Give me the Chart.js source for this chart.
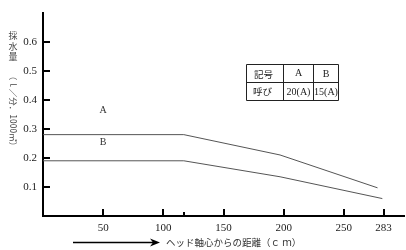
<!DOCTYPE html>
<html><head><meta charset="utf-8">
<script src="https://cdn.jsdelivr.net/npm/chart.js@4/dist/chart.umd.min.js"></script>
<style>html,body{margin:0;padding:0;background:#fff;} #wrap{width:406px;height:250px;position:relative;}</style>
</head><body><div id="wrap"><canvas id="c" width="406" height="250"></canvas></div>
<script>
// ---- data ----
const seriesNames = ['A', 'B'];
const distA = [0, 117, 197, 278];
const flowA = [0.28, 0.28, 0.21, 0.097];
const distB = [0, 117, 197, 282];
const flowB = [0.19, 0.19, 0.135, 0.06];
const xTickValues = [50, 100, 150, 200, 250, 283];
const minorXTicks = [117];
const yTickValues = [0.1, 0.2, 0.3, 0.4, 0.5, 0.6];
const seriesLabelPos = [[50, 0.362], [50, 0.252]];
const tableHeader = ['記号', 'A', 'B'];
const tableRow = ['呼び', '20(A)', '15(A)'];
const yTitleStacked = '採水量';
const yTitleUnit = '（ｌ／分．1000㎡）';
const xTitle = 'ヘッド軸心からの距離（ｃ ｍ）';

const SERIF = "'Liberation Serif', 'DejaVu Serif', serif";
const JP = "'Noto Sans CJK JP', sans-serif";

const toPts = (xs, ys) => xs.map((x, i) => ({x: x, y: ys[i]}));

const decor = {
  id: 'decor',
  afterDraw(chart) {
    const ctx = chart.ctx, xs = chart.scales.x, ys = chart.scales.y, a = chart.chartArea;
    ctx.save();
    // inward ticks
    ctx.strokeStyle = '#000'; ctx.lineWidth = 2;
    xTickValues.forEach(v => { const px = Math.round(xs.getPixelForValue(v)); ctx.beginPath(); ctx.moveTo(px, a.bottom); ctx.lineTo(px, a.bottom - 7); ctx.stroke(); });
    minorXTicks.forEach(v => { const px = Math.round(xs.getPixelForValue(v)); ctx.beginPath(); ctx.moveTo(px, a.bottom); ctx.lineTo(px, a.bottom - 4); ctx.stroke(); });
    yTickValues.forEach(v => { const py = Math.round(ys.getPixelForValue(v)); ctx.beginPath(); ctx.moveTo(a.left, py); ctx.lineTo(a.left + 7, py); ctx.stroke(); });
    // series labels
    ctx.fillStyle = '#333'; ctx.font = '10px ' + SERIF; ctx.textAlign = 'center'; ctx.textBaseline = 'middle';
    seriesNames.forEach((n, i) => ctx.fillText(n, xs.getPixelForValue(seriesLabelPos[i][0]), ys.getPixelForValue(seriesLabelPos[i][1])));
    // table
    const tx = [246.5, 283.5, 313.5, 338.5], ty = [64.5, 82.5, 100.5];
    ctx.strokeStyle = '#222'; ctx.lineWidth = 1;
    ctx.beginPath();
    ty.forEach(y => { ctx.moveTo(tx[0], y); ctx.lineTo(tx[3], y); });
    tx.forEach(x => { ctx.moveTo(x, ty[0]); ctx.lineTo(x, ty[2]); });
    ctx.stroke();
    ctx.fillStyle = '#222';
    ctx.textAlign = 'left'; ctx.font = '9.5px ' + JP;
    ctx.fillText(tableHeader[0], 254, 74); ctx.fillText(tableRow[0], 253, 91.5);
    ctx.textAlign = 'center'; ctx.font = '10px ' + SERIF;
    ctx.fillText(tableHeader[1], 298.5, 73.5); ctx.fillText(tableHeader[2], 326, 74);
    ctx.fillText(tableRow[1], 298.5, 92); ctx.fillText(tableRow[2], 326, 92);
    // y title
    ctx.fillStyle = '#444'; ctx.font = '9px ' + JP; ctx.textAlign = 'center';
    [...yTitleStacked].forEach((ch, i) => ctx.fillText(ch, 13, 36 + i * 10.5));
    ctx.save(); ctx.translate(13, 111); ctx.rotate(Math.PI / 2);
    ctx.font = '8.5px ' + JP; ctx.fillText(yTitleUnit, 0, 0); ctx.restore();
    // x title with arrow
    ctx.strokeStyle = '#000'; ctx.lineWidth = 1.5;
    ctx.beginPath(); ctx.moveTo(73, 242.5); ctx.lineTo(154, 242.5); ctx.stroke();
    ctx.fillStyle = '#000';
    ctx.beginPath(); ctx.moveTo(160, 242.5); ctx.lineTo(150, 238.5); ctx.lineTo(153, 242.5); ctx.lineTo(150, 246.5); ctx.closePath(); ctx.fill();
    ctx.fillStyle = '#333'; ctx.font = '9.5px ' + JP; ctx.textAlign = 'left';
    ctx.fillText(xTitle, 166, 242.5);
    ctx.restore();
  }
};

new Chart(document.getElementById('c'), {
  type: 'line',
  data: {
    datasets: [
      {label: seriesNames[0], data: toPts(distA, flowA)},
      {label: seriesNames[1], data: toPts(distB, flowB)}
    ].map(d => Object.assign(d, {borderColor: '#555', borderWidth: 1, pointRadius: 0, tension: 0, fill: false}))
  },
  options: {
    responsive: false, animation: false,
    layout: {padding: {top: 3, right: 2, left: 0, bottom: 0}},
    plugins: {legend: {display: false}, tooltip: {enabled: false}},
    scales: {
      x: {
        type: 'linear', min: 0, max: 300,
        afterBuildTicks: s => { s.ticks = xTickValues.map(v => ({value: v})); },
        afterFit: s => { s.height = 34; },
        grid: {drawOnChartArea: false, drawTicks: false},
        border: {display: true, color: '#000', width: 2},
        ticks: {padding: 6, color: '#222', font: {family: SERIF, size: 11}, maxRotation: 0, autoSkip: false}
      },
      y: {
        min: 0, max: 0.7,
        afterBuildTicks: s => { s.ticks = yTickValues.map(v => ({value: v})); },
        afterFit: s => { s.width = 43; },
        grid: {drawOnChartArea: false, drawTicks: false},
        border: {display: true, color: '#000', width: 2},
        ticks: {padding: 6, color: '#222', font: {family: SERIF, size: 11}, callback: v => v.toFixed(1)}
      }
    }
  },
  plugins: [decor]
});
</script>
</body></html>
